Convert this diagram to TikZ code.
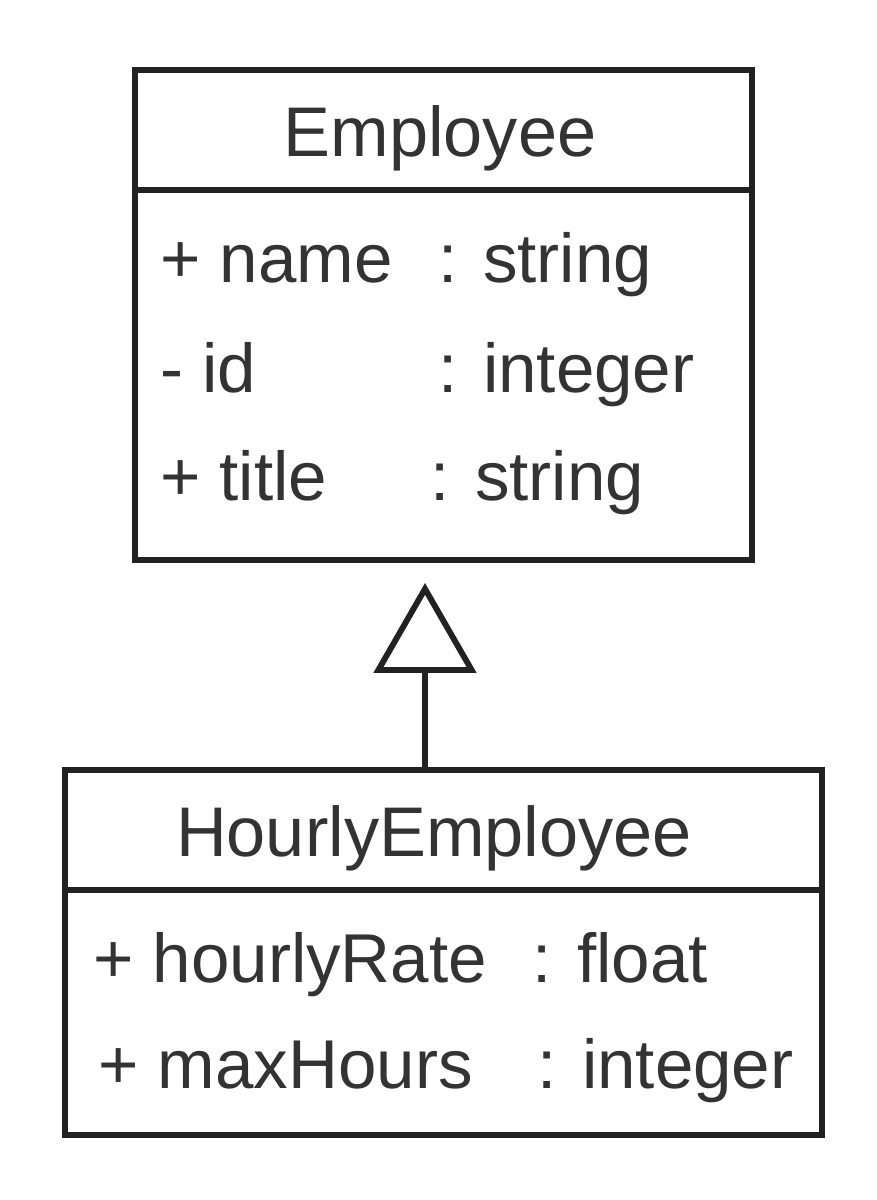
\documentclass[tikz,border=0pt]{standalone}
\usepackage{fontspec}
\setmainfont{Liberation Sans}
\usetikzlibrary{arrows.meta}
\definecolor{umltext}{HTML}{333333}
\definecolor{umlline}{HTML}{222222}
\tikzset{
  classbox/.style={draw=umlline, line width=5pt, inner sep=0pt},
  attr/.style={anchor=base west, inner sep=0pt, text=umltext, font=\fontsize{59}{59}\selectfont},
  title/.style={inner sep=0pt, text=umltext, font=\fontsize{60}{60}\selectfont},
  inherit/.style={draw=umlline, line width=5pt, shorten >=0.6cm,
    -{Triangle[open, length=2.7cm, width=3.06cm, line width=5pt]}}
}
\begin{document}
\begin{tikzpicture}[x=0.03cm, y=-0.03cm]
		\useasboundingbox (0,0) rectangle (877,1200);
		% Employee class
		\node [classbox, minimum width=18.51cm, minimum height=14.7cm] (emp) at (443.5,315) {};
		\draw [umlline, line width=5pt] (135,190) -- (752,190);
		\node [title] (empname) at (440,138) {Employee};
		\node [attr] (a1) at (160,282) {+ name};
		\node [attr] (t1) at (438,282) {: string};
		\node [attr] (a2) at (160,392) {- id};
		\node [attr] (t2) at (438,392) {: integer};
		\node [attr] (a3) at (160,500) {+ title};
		\node [attr] (t3) at (430,500) {: string};
		% HourlyEmployee class
		\node [classbox, minimum width=22.71cm, minimum height=10.95cm] (hourly) at (443.5,952.5) {};
		\draw [umlline, line width=5pt] (65,890) -- (822,890);
		\node [title] (hourlyname) at (434,838) {HourlyEmployee};
		\node [attr] (b1) at (93,982) {+ hourlyRate};
		\node [attr] (u1) at (532,982) {: float};
		\node [attr] (b2) at (98,1088) {+ maxHours};
		\node [attr] (u2) at (537,1088) {: integer};
		% generalisation
		\draw [inherit] (hourly.north -| 425,0) -- (emp.south -| 425,0);
	\end{tikzpicture}
\end{document}
